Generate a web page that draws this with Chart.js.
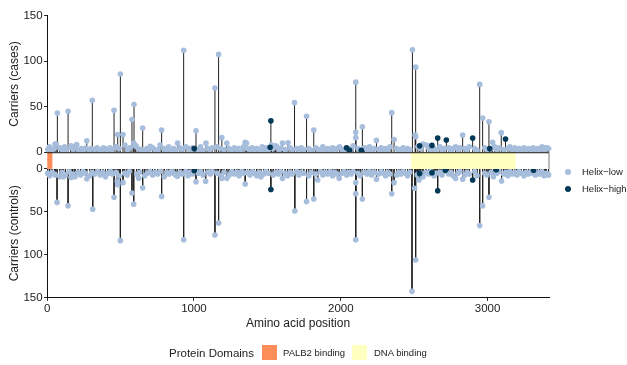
<!DOCTYPE html>
<html>
<head>
<meta charset="utf-8">
<script src="https://cdn.jsdelivr.net/npm/chart.js@4.4.1/dist/chart.umd.min.js"></script>
<style>
  body { margin: 0; background: #fff; }
  #wrap { position: relative; width: 627px; height: 365px; font-family: "Liberation Sans", Arial, sans-serif; color: #222; }
  #chart { position: absolute; left: 0; top: 0; }
  .txt { position: absolute; white-space: nowrap; line-height: 14px; }
  .dot { position: absolute; width: 6px; height: 6px; border-radius: 50%; }
  .sw { position: absolute; width: 15px; height: 15px; }
</style>
</head>
<body>
<div id="wrap">
  <canvas id="chart" width="627" height="365"></canvas>

  <span class="dot" style="left:565px;top:169px;background:#a6bddb"></span>
  <span class="txt" style="left:582px;top:165px;font-size:9.5px">Helix−low</span>
  <span class="dot" style="left:565px;top:186px;background:#023858"></span>
  <span class="txt" style="left:582px;top:182px;font-size:9.5px">Helix−high</span>

  <span class="txt" style="left:169px;top:346px;font-size:11.5px">Protein Domains</span>
  <span class="sw" style="left:262px;top:345px;background:#fc8d59"></span>
  <span class="txt" style="left:283px;top:346px;font-size:9.5px">PALB2 binding</span>
  <span class="sw" style="left:352px;top:345px;background:#ffffbf"></span>
  <span class="txt" style="left:374px;top:346px;font-size:9.5px">DNA binding</span>
</div>
<script>
// [amino acid position, carriers]
const casesLow = [
  [54,9],[70,43],[143,45],[163,7],[202,8.5],[270,12.5],[308,57],[383,5],[456,46],[481,19.5],
  [499,86],[517,19.5],[578,36],[590,10],[592,52.5],[600,7],[651,26.5],[703,6.5],[769,8],[780,24.5],
  [889,10],[930,112],[1014,23.5],[1082,10],[1143,70.5],[1168,107.5],[1190,16],[1224,10],[1349,11],[1358,10],
  [1465,6],[1528,8],[1549,7],[1555,7],[1603,10],[1641,10.5],[1685,54.5],[1767,39.5],[1816,24.5],[2102,77],
  [2102,22],[2102,16],[2147,28],[2243,13],[2347,43.5],[2363,14],[2488,112.5],[2506,19],[2510,93.5],[2510,17],
  [2583,8],[2782,6],[2830,19],[2946,74.5],[2966,37.5],[3009,33.5],[3034,11],[3093,21.5],[3392,5]
];
const casesBand = [
  [5,3],[15,6],[32,2],[48,4],[62,9],[85,5],[100,3],[118,6],[130,2],[160,5],[178,3],[195,7],[215,2],[232,4],
  [248,3],[265,5],[285,2],[300,4],[322,3],[340,5],[358,2],[375,3],[395,4],[410,2],[428,5],[442,3],[470,6],
  [490,4],[530,8],[548,3],[565,5],[605,7],[620,4],[638,3],[665,2],[680,4],[695,3],[720,5],[738,2],[755,3],
  [795,4],[812,2],[828,6],[845,3],[862,4],[875,2],[905,5],[918,3],[945,6],[962,4],[978,2],[990,5],[1030,3],
  [1045,6],[1060,2],[1095,4],[1110,3],[1125,5],[1155,6],[1180,4],[1205,3],[1240,4],[1258,2],[1275,5],[1290,3],
  [1305,4],[1322,2],[1338,6],[1365,4],[1380,2],[1396,5],[1412,3],[1428,4],[1445,2],[1475,3],[1490,5],[1505,2],
  [1540,4],[1565,6],[1580,3],[1595,4],[1622,3],[1655,5],[1670,3],[1700,4],[1715,2],[1730,5],[1748,3],[1782,4],
  [1798,2],[1830,5],[1848,3],[1862,2],[1878,6],[1895,3],[1912,4],[1928,2],[1945,5],[1960,3],[1975,4],[1992,6],
  [2008,3],[2022,2],[2055,4],[2070,3],[2085,7],[2118,4],[2132,2],[2162,5],[2178,3],[2195,6],[2210,2],[2228,4],
  [2258,3],[2275,5],[2290,2],[2305,4],[2320,3],[2335,6],[2380,4],[2395,2],[2410,3],[2425,5],[2440,2],[2455,4],
  [2470,3],[2525,6],[2545,4],[2560,9],[2598,5],[2612,3],[2635,4],[2648,2],[2675,6],[2690,3],[2705,4],[2735,5],
  [2750,2],[2765,4],[2798,3],[2812,5],[2845,4],[2860,3],[2875,6],[2912,4],[2928,2],[2980,5],[2995,3],[3024,4],
  [3048,6],[3062,3],[3078,5],[3110,3],[3138,4],[3152,6],[3168,3],[3185,5],[3200,2],[3215,4],[3230,3],[3248,5],
  [3262,2],[3278,4],[3295,3],[3310,5],[3325,2],[3340,4],[3355,3],[3370,6],[3385,3],[3405,5],[3415,4]
];
const casesHigh = [
  [1002,4],[1519,5.5],[1524,34.5],[2039,5],[2060,2],[2140,2],[2537,7],[2621,7.5],[2660,15.5],[2719,13.5],
  [2898,15.5],[3014,4],[3122,14.5]
];

const controlsLow = [
  [56,7],[68,39],[112,9],[143,43],[163,10],[270,11.5],[311,47],[456,33],[478,14.5],[481,18.5],
  [499,83.5],[517,16],[578,28],[590,41],[624,11],[651,22],[780,32],[887,8.5],[930,82.5],[1014,15],
  [1080,14.5],[1143,77],[1168,63],[1190,11],[1224,11],[1349,17.5],[1456,9],[1603,11],[1687,49],[1767,38],
  [1816,35],[1843,13],[1989,11],[2102,82.5],[2102,29],[2102,16],[2147,35],[2243,12],[2347,29],[2363,16],
  [2485,142.5],[2503,22.5],[2510,106],[2533,13],[2782,11],[2830,12],[2946,66],[2966,43],[3009,33],[3095,14],
  [3392,7]
];
const controlsBand = [
  [4,5],[18,8],[35,4],[50,6],[88,9],[102,4],[125,7],[150,3],[175,6],[190,9],[210,4],[228,7],[245,3],[260,5],
  [290,8],[305,4],[325,6],[345,3],[362,7],[380,4],[398,9],[415,5],[432,3],[445,6],[470,4],[490,8],[528,5],
  [545,7],[560,3],[610,6],[630,4],[665,8],[682,5],[700,3],[718,7],[735,4],[752,6],[768,3],[798,9],[815,4],
  [830,6],[848,3],[862,5],[875,7],[905,4],[920,6],[945,3],[960,8],[975,4],[990,6],[1030,5],[1045,3],[1062,7],
  [1095,4],[1112,6],[1125,3],[1158,5],[1185,8],[1205,4],[1240,7],[1258,3],[1275,6],[1292,4],[1308,8],[1325,3],
  [1338,5],[1365,4],[1382,7],[1398,3],[1412,5],[1428,8],[1445,4],[1475,6],[1490,3],[1508,5],[1540,7],[1558,4],
  [1575,6],[1590,3],[1622,5],[1638,8],[1655,4],[1670,6],[1700,3],[1715,7],[1730,4],[1748,5],[1782,8],[1798,4],
  [1830,6],[1862,3],[1878,7],[1895,4],[1912,6],[1928,3],[1945,8],[1960,4],[1975,6],[2008,5],[2022,3],[2040,7],
  [2055,4],[2070,6],[2085,3],[2118,5],[2132,8],[2162,4],[2178,6],[2195,3],[2210,7],[2228,4],[2258,6],[2275,3],
  [2290,5],[2305,8],[2320,4],[2335,6],[2380,7],[2395,4],[2410,6],[2425,3],[2440,5],[2455,8],[2470,4],[2520,7],
  [2545,5],[2560,9],[2580,4],[2598,6],[2612,3],[2635,8],[2648,5],[2675,4],[2690,7],[2705,3],[2735,6],[2750,4],
  [2765,8],[2798,5],[2812,3],[2845,7],[2860,4],[2875,6],[2912,3],[2928,8],[2980,5],[2995,7],[3024,4],[3040,9],
  [3062,5],[3078,3],[3110,6],[3125,4],[3138,8],[3152,3],[3168,6],[3185,4],[3200,7],[3215,3],[3230,5],[3248,8],
  [3262,4],[3278,6],[3295,3],[3310,5],[3325,7],[3340,4],[3355,6],[3370,3],[3385,8],[3400,5],[3415,7]
];
const controlsHigh = [
  [1002,2],[1524,24],[2537,5.5],[2621,4.5],[2660,25.5],[2712,1.5],[2898,13],[3059,1],[3313,1.5]
];

const proteinLength = 3418;
const xTicks = [0, 1000, 2000, 3000];
const yTicks = [0, 50, 100, 150];
const domainNames = ["PALB2 binding", "DNA binding"];
const domainStart = [1, 2479];
const domainEnd = [36, 3190];
const domainColours = ["#fc8d59", "#ffffbf"];

const lowColour = "#a6bddb";
const highColour = "#023858";

function pts(list) {
  return list.map(function(d) { return {x: d[0], y: d[1]}; });
}
function stems(list) {
  var out = [];
  list.forEach(function(d) {
    out.push({x: d[0], y: 0}, {x: d[0], y: d[1]}, {x: d[0], y: null});
  });
  return out;
}

const allCases = casesLow.concat(casesBand, casesHigh);
const allControls = controlsLow.concat(controlsBand, controlsHigh);

const clipTop = {left: 4, right: 4, top: 4, bottom: 0};
const clipBottom = {left: 4, right: 4, top: 0, bottom: 4};

function dotSet(list, colour, axis, clip) {
  return {
    data: pts(list), yAxisID: axis, clip: clip, showLine: false,
    pointRadius: 2.8, pointHoverRadius: 2.8, pointBackgroundColor: colour, pointBorderWidth: 0
  };
}
function stemSet(list, axis, clip) {
  return {
    data: stems(list), yAxisID: axis, clip: clip, showLine: true, spanGaps: false,
    borderColor: "#222", borderWidth: 1, pointRadius: 0, pointHoverRadius: 0
  };
}

// domain strip between the two panels
const domainStrip = {
  id: "domainStrip",
  afterDatasetsDraw: function(chart) {
    const ctx = chart.ctx;
    const x = chart.scales.x;
    const yd = chart.scales.yDom;
    const top = yd.getPixelForValue(1);
    const bot = yd.getPixelForValue(0);
    const x0 = x.getPixelForValue(0);
    const x1 = x.getPixelForValue(proteinLength);
    ctx.save();
    ctx.fillStyle = "#fff";
    ctx.fillRect(x0, top, x1 - x0, bot - top);
    for (var i = 0; i < domainNames.length; i++) {
      var a = x.getPixelForValue(domainStart[i]);
      var b = x.getPixelForValue(domainEnd[i]);
      ctx.fillStyle = domainColours[i];
      ctx.fillRect(a, top, b - a, bot - top);
    }
    ctx.strokeStyle = "#111";
    ctx.lineWidth = 1;
    ctx.beginPath();
    ctx.moveTo(x0, top + 0.5);
    ctx.lineTo(x1, top + 0.5);
    ctx.stroke();
    ctx.strokeStyle = "#777";
    ctx.beginPath();
    ctx.moveTo(x1, top);
    ctx.lineTo(x1, bot);
    ctx.stroke();
    ctx.restore();
  }
};

Chart.defaults.font.family = "'Liberation Sans', Arial, sans-serif";
Chart.defaults.color = "#222";

function setTicks(list) {
  return function(axis) { axis.ticks = list.map(function(v) { return {value: v}; }); };
}

function yScale(title, weight, rev) {
  return {
    type: "linear", position: "left", stack: "panels", stackWeight: weight, reverse: rev,
    min: 0, max: 150,
    afterBuildTicks: setTicks(yTicks),
    ticks: {color: "#222", font: {size: 11.5}, padding: 1.5},
    grid: {drawOnChartArea: false, drawTicks: true, tickLength: 3, color: "#222"},
    border: {display: true, color: "#111", width: 1},
    title: {display: true, text: title, color: "#222", font: {size: 12}, padding: {top: 3, bottom: 0}}
  };
}

new Chart(document.getElementById("chart"), {
  type: "scatter",
  data: {
    datasets: [
      dotSet(casesHigh, highColour, "y", clipTop),
      dotSet(controlsHigh, highColour, "y2", clipBottom),
      dotSet(casesLow, lowColour, "y", clipTop),
      dotSet(controlsLow, lowColour, "y2", clipBottom),
      dotSet(casesBand, lowColour, "y", clipTop),
      dotSet(controlsBand, lowColour, "y2", clipBottom),
      stemSet(allCases, "y", clipTop),
      stemSet(allControls, "y2", clipBottom)
    ]
  },
  options: {
    responsive: false,
    animation: false,
    events: [],
    layout: {padding: {left: 4.5, right: 78, top: 15.7, bottom: 34}},
    plugins: {legend: {display: false}, tooltip: {enabled: false}},
    scales: {
      x: {
        type: "linear", position: "bottom", min: 0, max: proteinLength,
        afterBuildTicks: setTicks(xTicks),
        ticks: {color: "#222", font: {size: 11.5}, padding: 1, maxRotation: 0, autoSkip: false,
          callback: function(v) { return String(v); }},
        grid: {drawOnChartArea: false, drawTicks: true, tickLength: 3, color: "#222"},
        border: {display: true, color: "#111", width: 1},
        title: {display: true, text: "Amino acid position", color: "#222", font: {size: 12}, padding: {top: 0, bottom: 0}}
      },
      y2: yScale("Carriers (controls)", 128.4, true),
      yDom: {
        type: "linear", position: "left", stack: "panels", stackWeight: 16.6, min: 0, max: 1,
        ticks: {display: false}, grid: {display: false}, border: {display: false}
      },
      y: yScale("Carriers (cases)", 136, false)
    }
  },
  plugins: [domainStrip]
});
</script>
</body>
</html>
